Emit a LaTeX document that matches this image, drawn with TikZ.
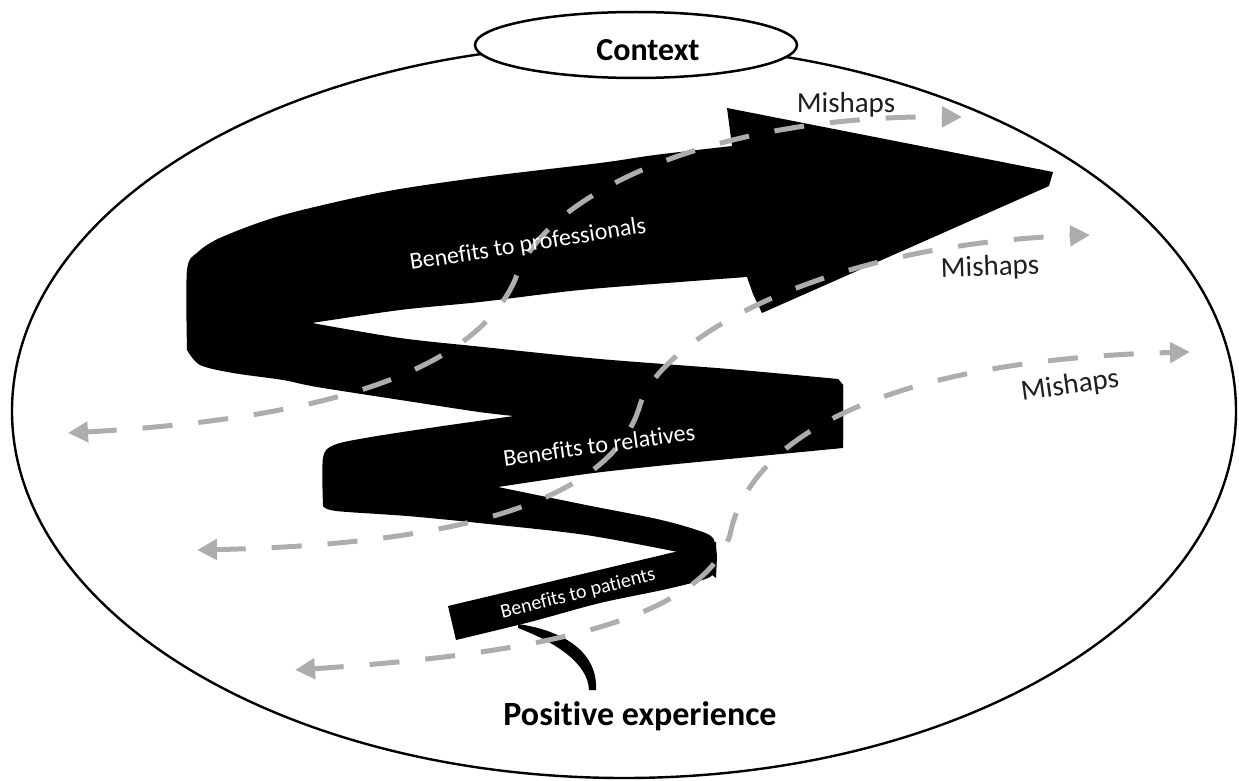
\documentclass[tikz,border=0pt]{standalone}
\usepackage{fontspec}
\setmainfont{Carlito}[Ligatures=NoCommon]
\usetikzlibrary{arrows.meta}
\usetikzlibrary{shapes.geometric}
\definecolor[named]{MishapGray}{gray}{0.68}
\definecolor[named]{LabelGray}{gray}{0.12}
\tikzset{
  ribbon/.style={fill=black},
  mishap/.style={
    MishapGray,
    line width=5pt,
    dash pattern=on 30pt off 26pt,
    {Triangle[length=20pt,width=20pt]}-{Triangle[length=20pt,width=20pt]}
  },
  ctxshape/.style={draw,fill=white,ellipse,line width=2.5pt,
    minimum width=322pt,minimum height=66pt,inner sep=0pt},
  titlelabel/.style={font=\fontsize{32}{32}\selectfont\bfseries,inner sep=0pt},
  bandlabel/.style={white,inner sep=0pt},
  mishaplabel/.style={LabelGray,font=\fontsize{29}{29}\selectfont,inner sep=0pt}
}

\begin{document}
\begin{tikzpicture}[x=1pt,y=-1pt]
    \useasboundingbox (0,0) rectangle (1239,781);

    % Outer context
    \draw[line width=2.4pt] (624,411) ellipse [x radius=612pt, y radius=367pt];
    \node[ctxshape] (ctx) at (636,45) {};
    \node[titlelabel] (ctxlabel) at (648,50) {Context};

    % Coordinates
    \path (68,433) coordinate (M1l) (962,117) coordinate (M1r)
      (197,550) coordinate (M2l) (1090,235) coordinate (M2r)
      (295,670) coordinate (M3l) (1190,352) coordinate (M3r)
      ;

    % Spiral ribbon
    % tail
    \fill[ribbon] (518,624) .. controls (560,630) and (598,650) .. (596,690)
      -- (589,690) .. controls (588,663) and (555,642) .. (518,628) -- cycle;
    % patients loop
    \fill[ribbon] (448,606) -- (456,640)
      -- plot[smooth] coordinates {(456,640) (530,622) (600,603) (667,589) (708,578) (716,568)}
      -- (716,542) -- (683,550) -- (448,606) -- cycle;
    % relatives loop
    \fill[ribbon] plot[smooth] coordinates {(323,506) (323,458) (334,445) (371,437) (443,426) (514,416)}
      -- (838,379) -- (843,385) -- (843,448)
      -- plot[smooth] coordinates {(843,448) (729,459) (657,466) (586,474) (498,487)}
      -- plot[smooth] coordinates {(498,487) (586,505) (657,519) (697,530) (713,538) (717,556)}
      -- (716,578) -- (683,553)
      -- plot[smooth] coordinates {(683,553) (586,535) (479,523) (407,516) (336,511) (323,506)}
      -- cycle;
    % professionals loop and head
    \fill[ribbon] plot[smooth] coordinates {(187,350) (187,270) (198,252) (222,237) (283,215) (383,192) (483,177) (600,163) (655,155) (732,146)}
      -- (727,108) -- (1053,172) -- (1049,186) -- (762,313) -- (753,294)
      -- plot[smooth] coordinates {(747,277) (680,282) (580,290) (480,302) (400,310) (312,323)}
      -- plot[smooth] coordinates {(312,323) (400,338) (483,347) (600,359) (729,369) (838,379)}
      -- (843,385) -- (843,440) -- (514,416)
      -- plot[smooth] coordinates {(514,416) (479,412) (407,401) (317,387) (283,380) (233,373) (200,365) (187,350)}
      -- cycle;

    % Mishaps
    \draw[mishap] (M1l) .. controls (300,420) and (470,380) .. (515,280)
      .. controls (545,190) and (720,115) .. (M1r);
    \draw[mishap] (M2l) .. controls (430,545) and (610,510) .. (640,405)
      .. controls (660,340) and (820,245) .. (M2r);
    \draw[mishap] (M3l) .. controls (520,655) and (700,625) .. (730,535)
      .. controls (748,440) and (880,360) .. (M3r);
    \node[mishaplabel] (mishapA) at (846,105) {Mishaps};
    \node[mishaplabel,rotate=2] (mishapB) at (990,268) {Mishaps};
    \node[mishaplabel,rotate=8] (mishapC) at (1070,386) {Mishaps};

    % Ribbon labels
    \node[bandlabel,font=\fontsize{24}{24}\selectfont,rotate=9] (prof) at (528,245) {Benefits to professionals};
    \node[bandlabel,font=\fontsize{24}{24}\selectfont,rotate=8] (rel) at (599,445) {Benefits to relatives};
    \node[bandlabel,font=\fontsize{20}{20}\selectfont,rotate=14] (pat) at (578,594) {Benefits to patients};

    % Bottom
    \node[titlelabel,font=\fontsize{34}{34}\selectfont\bfseries] (posexp) at (640,716) {Positive experience};

\end{tikzpicture}
\end{document}
